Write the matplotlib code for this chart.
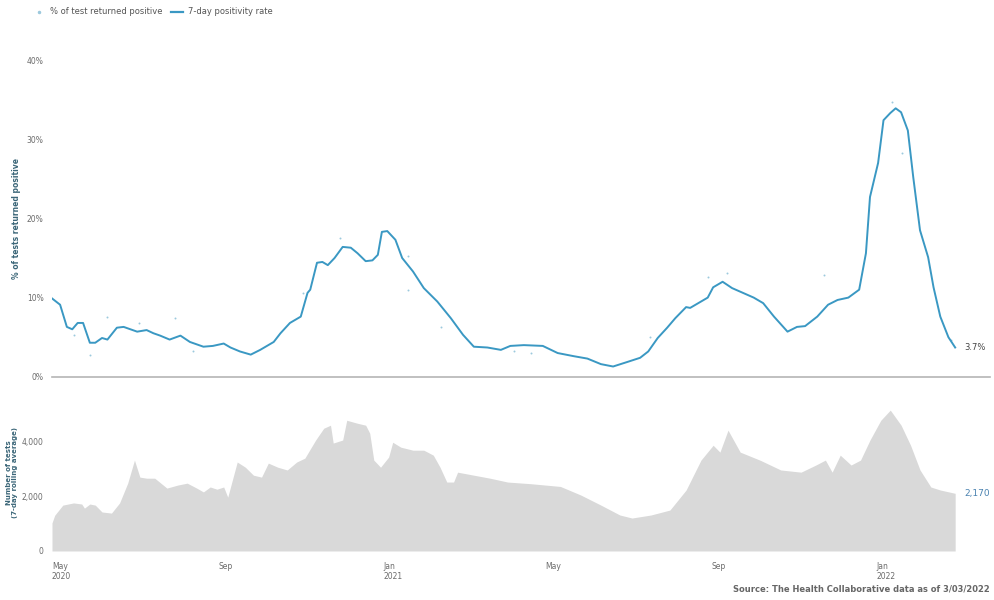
#!/usr/bin/env python3

import numpy as np
import pandas as pd
import matplotlib
matplotlib.use("Agg")
import matplotlib.pyplot as plt
import matplotlib.dates as mdates
from matplotlib.lines import Line2D

# 7-day positivity rate (%)
rate_dates = [
    "2020-05-01", "2020-05-07", "2020-05-12", "2020-05-16", "2020-05-20", "2020-05-24",
    "2020-05-29", "2020-06-02", "2020-06-07", "2020-06-11", "2020-06-18", "2020-06-23",
    "2020-07-03", "2020-07-10", "2020-07-15", "2020-07-20", "2020-07-27", "2020-08-04",
    "2020-08-11", "2020-08-21", "2020-08-28", "2020-09-05", "2020-09-10", "2020-09-17",
    "2020-09-25", "2020-10-02", "2020-10-12", "2020-10-17", "2020-10-24", "2020-11-01",
    "2020-11-06", "2020-11-08", "2020-11-13", "2020-11-17", "2020-11-21", "2020-11-26",
    "2020-12-02", "2020-12-08", "2020-12-13", "2020-12-19", "2020-12-24", "2020-12-28",
    "2020-12-31", "2021-01-04", "2021-01-10", "2021-01-15", "2021-01-23", "2021-01-31",
    "2021-02-10", "2021-02-20", "2021-03-01", "2021-03-09", "2021-03-19", "2021-03-29",
    "2021-04-05", "2021-04-15", "2021-04-29", "2021-05-10", "2021-05-22", "2021-06-01",
    "2021-06-11", "2021-06-20", "2021-07-01", "2021-07-10", "2021-07-16", "2021-07-23",
    "2021-07-30", "2021-08-05", "2021-08-13", "2021-08-16", "2021-08-24", "2021-08-29",
    "2021-09-02", "2021-09-09", "2021-09-16", "2021-09-24", "2021-10-02", "2021-10-09",
    "2021-10-17", "2021-10-27", "2021-11-03", "2021-11-09", "2021-11-18", "2021-11-26",
    "2021-12-03", "2021-12-11", "2021-12-19", "2021-12-24", "2021-12-27", "2022-01-02",
    "2022-01-06", "2022-01-11", "2022-01-15", "2022-01-19", "2022-01-24", "2022-01-28",
    "2022-02-02", "2022-02-08", "2022-02-12", "2022-02-17", "2022-02-23", "2022-02-28",
]
rate_values = [
    9.9, 9.1, 6.3, 6.0, 6.8, 6.8,
    4.3, 4.3, 4.9, 4.7, 6.2, 6.3,
    5.7, 5.9, 5.5, 5.2, 4.7, 5.2,
    4.4, 3.8, 3.9, 4.2, 3.7, 3.2,
    2.8, 3.4, 4.4, 5.5, 6.8, 7.6,
    10.6, 11.0, 14.4, 14.5, 14.1, 15.0,
    16.4, 16.3, 15.6, 14.6, 14.7, 15.4,
    18.3, 18.4, 17.3, 15.0, 13.3, 11.2,
    9.5, 7.4, 5.3, 3.8, 3.7, 3.4,
    3.9, 4.0, 3.9, 3.0, 2.6, 2.3,
    1.6, 1.3, 1.9, 2.4, 3.2, 4.9,
    6.2, 7.4, 8.8, 8.7, 9.5, 10.0,
    11.3, 12.0, 11.2, 10.6, 10.0, 9.3,
    7.6, 5.7, 6.3, 6.4, 7.6, 9.1,
    9.7, 10.0, 11.0, 15.6, 22.7, 27.0,
    32.4, 33.3, 33.9, 33.4, 31.1, 25.2,
    18.5, 15.1, 11.3, 7.6, 5.0, 3.7,
]

# a few of the daily % positive dots that stand off the line
dot_dates = [
    "2020-05-17", "2020-05-29", "2020-06-11", "2020-07-04", "2020-07-31", "2020-08-13",
    "2020-11-03", "2020-11-30", "2021-01-19", "2021-01-19", "2021-02-13", "2021-04-08",
    "2021-04-20", "2021-07-17", "2021-08-29", "2021-09-12", "2021-11-23", "2022-01-12",
    "2022-01-20", "2022-02-25",
]
dot_values = [
    5.3, 2.8, 7.6, 6.8, 7.4, 3.2,
    10.6, 17.5, 15.3, 11.0, 6.3, 3.2,
    3.0, 5.0, 12.6, 13.1, 12.9, 34.7,
    28.3, 4.7,
]

# tests per day, 7-day rolling average
test_dates = [
    "2020-05-01", "2020-05-03", "2020-05-09", "2020-05-17", "2020-05-23", "2020-05-25",
    "2020-05-29", "2020-06-02", "2020-06-07", "2020-06-14", "2020-06-20", "2020-06-26",
    "2020-07-01", "2020-07-05", "2020-07-10", "2020-07-16", "2020-07-25", "2020-08-02",
    "2020-08-09", "2020-08-16", "2020-08-21", "2020-08-26", "2020-08-31", "2020-09-05",
    "2020-09-08", "2020-09-15", "2020-09-21", "2020-09-27", "2020-10-03", "2020-10-08",
    "2020-10-15", "2020-10-22", "2020-10-29", "2020-11-04", "2020-11-12", "2020-11-18",
    "2020-11-23", "2020-11-25", "2020-12-02", "2020-12-05", "2020-12-13", "2020-12-19",
    "2020-12-22", "2020-12-25", "2020-12-30", "2021-01-05", "2021-01-08", "2021-01-14",
    "2021-01-23", "2021-01-31", "2021-02-07", "2021-02-12", "2021-02-17", "2021-02-22",
    "2021-02-25", "2021-03-09", "2021-03-21", "2021-04-03", "2021-04-20", "2021-05-12",
    "2021-05-27", "2021-06-11", "2021-06-25", "2021-07-04", "2021-07-18", "2021-08-01",
    "2021-08-13", "2021-08-24", "2021-09-02", "2021-09-07", "2021-09-13", "2021-09-22",
    "2021-10-07", "2021-10-22", "2021-11-06", "2021-11-17", "2021-11-24", "2021-11-29",
    "2021-12-05", "2021-12-13", "2021-12-20", "2021-12-27", "2022-01-04", "2022-01-11",
    "2022-01-19", "2022-01-26", "2022-02-02", "2022-02-10", "2022-02-17", "2022-02-28",
]
test_values = [
    1020, 1300, 1670, 1750, 1710, 1560,
    1710, 1670, 1420, 1380, 1750, 2470,
    3310, 2690, 2650, 2650, 2290, 2400,
    2470, 2290, 2150, 2330, 2250, 2330,
    1960, 3240, 3050, 2760, 2690, 3200,
    3050, 2950, 3240, 3380, 4040, 4470,
    4580, 3930, 4040, 4760, 4650, 4580,
    4290, 3310, 3050, 3420, 3960, 3780,
    3670, 3670, 3490, 3050, 2510, 2510,
    2870, 2760, 2650, 2510, 2450, 2350,
    2040, 1670, 1310, 1200, 1310, 1490,
    2220, 3310, 3850, 3600, 4400, 3600,
    3300, 2950, 2870, 3130, 3310, 2870,
    3490, 3130, 3310, 4040, 4760, 5130,
    4580, 3850, 2950, 2330, 2220, 2100,
]

rate_label = "3.7%"
test_label = "2,170"

x_ticks = ["2020-05-01", "2020-09-01", "2021-01-01", "2021-05-01", "2021-09-01", "2022-01-01"]
x_tick_labels = ["May\n2020", "Sep", "Jan\n2021", "May", "Sep", "Jan\n2022"]

line_color = "#3a98c3"
dark_teal = "#3b6678"
gray_text = "#6b6b6b"


def main():
    rd = pd.to_datetime(rate_dates)
    dd = pd.to_datetime(dot_dates)
    td = pd.to_datetime(test_dates)
    xlim = (pd.Timestamp("2020-05-01"), pd.Timestamp("2022-03-26"))

    fig = plt.figure(figsize=(9.94, 6.0), dpi=100)
    ax1 = fig.add_axes([0.0523, 0.372, 0.944, 0.528])
    ax2 = fig.add_axes([0.0523, 0.0817, 0.944, 0.238])

    # positivity panel
    ax1.scatter(dd, dot_values, s=2, color="#9cc9dd", lw=0, zorder=2)
    ax1.plot(rd, rate_values, color=line_color, lw=1.4, zorder=3)
    ax1.set_xlim(*xlim)
    ax1.set_ylim(0, 40)
    ax1.set_yticks([0, 10, 20, 30, 40])
    ax1.set_yticklabels(["0%", "10%", "20%", "30%", "40%"])
    ax1.set_xticks([])
    for s in ["top", "right", "left"]:
        ax1.spines[s].set_visible(False)
    ax1.spines["bottom"].set_color("#b5b5b5")
    ax1.spines["bottom"].set_linewidth(1.2)
    ax1.tick_params(axis="y", length=0, labelsize=5.5, labelcolor=gray_text, pad=6)
    ax1.set_ylabel("% of tests returned positive", fontsize=5.5, color=dark_teal,
                   fontweight="bold")
    ax1.yaxis.set_label_coords(-0.033, 0.5)
    ax1.text(rd[-1] + pd.Timedelta(days=7), rate_values[-1], rate_label,
             fontsize=6, color="#444444", va="center", ha="left")

    # tests panel
    ax2.fill_between(td, 0, test_values, color="#d9d9d9", lw=0)
    ax2.set_xlim(*xlim)
    ax2.set_ylim(0, 5200)
    ax2.set_yticks([0, 2000, 4000])
    ax2.set_yticklabels(["0", "2,000", "4,000"])
    for s in ["top", "right", "left", "bottom"]:
        ax2.spines[s].set_visible(False)
    ax2.tick_params(axis="y", length=0, labelsize=5.5, labelcolor=gray_text, pad=6)
    ax2.set_xticks(pd.to_datetime(x_ticks))
    ax2.set_xticklabels(x_tick_labels, ha="left")
    ax2.tick_params(axis="x", length=0, labelsize=5.5, labelcolor=gray_text, pad=8)
    ax2.set_ylabel("Number of tests\n(7-day rolling average)", fontsize=5, color=dark_teal,
                   fontweight="bold", linespacing=1.1)
    ax2.yaxis.set_label_coords(-0.036, 0.55)
    ax2.text(td[-1] + pd.Timedelta(days=7), test_values[-1], test_label,
             fontsize=6.5, color="#4a82b0", va="center", ha="left")

    # legend across the top
    handles = [
        Line2D([], [], ls="none", marker="o", ms=1.5, color="#9cc9dd"),
        Line2D([], [], color=line_color, lw=1.6),
    ]
    fig.legend(handles, ["% of test returned positive", "7-day positivity rate"],
               loc="upper left", bbox_to_anchor=(0.025, 1.0), ncol=2, frameon=False,
               fontsize=6, handlelength=1.5, columnspacing=1.0, handletextpad=0.6,
               labelcolor="#555555")

    fig.text(0.996, 0.01, "Source: The Health Collaborative data as of 3/03/2022",
             ha="right", va="bottom", fontsize=6, color="#666666", fontweight="bold")

    fig.savefig("out.png", dpi=100, facecolor="white")


if __name__ == "__main__":
    main()
